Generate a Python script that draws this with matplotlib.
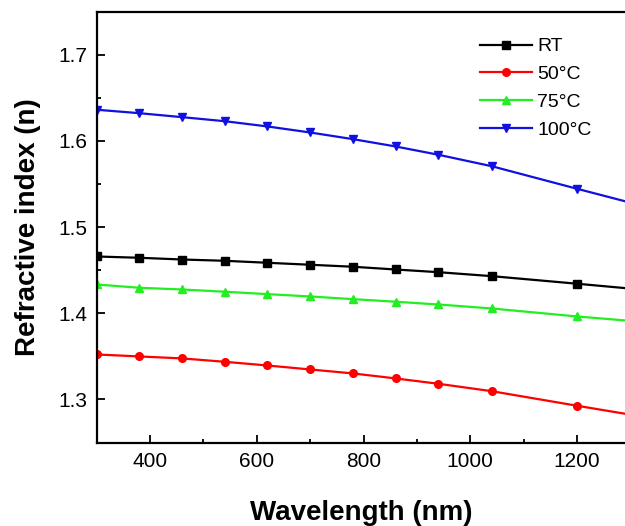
import matplotlib
matplotlib.use("Agg")
import matplotlib.pyplot as plt
from matplotlib.ticker import MultipleLocator

plt.rcParams["font.family"] = ["Liberation Sans", "DejaVu Sans"]

# wavelength (nm); last point is the line end at the right edge (no marker)
wavelength = [300, 380, 460, 540, 620, 700, 780, 860, 940, 1040, 1200, 1290]

n_rt = [1.4659, 1.4644, 1.4624, 1.4609, 1.4586, 1.4563, 1.4540, 1.4508, 1.4477, 1.4431, 1.4343, 1.4292]
n_50 = [1.3522, 1.3499, 1.3476, 1.3437, 1.3394, 1.3348, 1.3302, 1.3244, 1.3182, 1.3096, 1.2927, 1.2834]
n_75 = [1.4334, 1.4296, 1.4276, 1.4250, 1.4222, 1.4195, 1.4164, 1.4134, 1.4102, 1.4056, 1.3963, 1.3917]
n_100 = [1.6362, 1.6322, 1.6276, 1.6229, 1.6168, 1.6098, 1.6021, 1.5936, 1.5840, 1.5707, 1.5445, 1.5300]

series = [
    ("RT", n_rt, "#000000", "s"),
    ("50°C", n_50, "#ff0000", "o"),
    ("75°C", n_75, "#22ee22", "^"),
    ("100°C", n_100, "#1010e0", "v"),
]

fig = plt.figure(figsize=(6.25, 5.26), dpi=100)
ax = fig.add_axes([0.1547, 0.1587, 0.8453, 0.8191])

marks = list(range(len(wavelength) - 1))
for label, vals, color, marker in series:
    ax.plot(wavelength, vals, color=color, marker=marker, markersize=5.5,
            linewidth=1.6, markevery=marks, label=label)

ax.set_xlim(300, 1290)
ax.set_ylim(1.25, 1.75)
ax.xaxis.set_major_locator(MultipleLocator(200))
ax.xaxis.set_minor_locator(MultipleLocator(100))
ax.yaxis.set_minor_locator(MultipleLocator(0.05))
ax.set_yticks([1.3, 1.4, 1.5, 1.6, 1.7])
ax.tick_params(which="major", direction="in", length=6, width=1.3, labelsize=15, pad=7)
ax.tick_params(which="minor", direction="in", length=3, width=1.3)
for s in ["left", "bottom", "top"]:
    ax.spines[s].set_linewidth(1.6)
ax.spines["right"].set_visible(False)

ax.set_xlabel("Wavelength (nm)", fontsize=20, fontweight="bold", labelpad=21)
ax.set_ylabel("Refractive index (n)", fontsize=20, fontweight="bold", labelpad=12)

ax.legend(loc="upper right", bbox_to_anchor=(0.97, 0.98), frameon=False, fontsize=14,
          handlelength=2.7, handletextpad=0.25, labelspacing=0.52)

fig.savefig("out.png", dpi=100)
